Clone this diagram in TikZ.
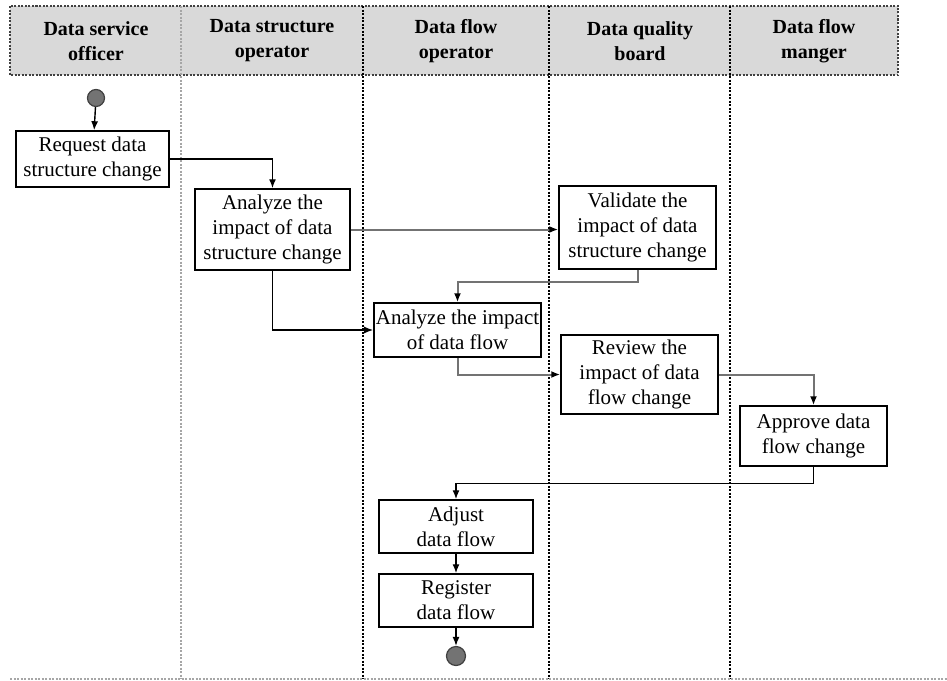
\documentclass[tikz,border=0pt]{standalone}
\usepackage{fontspec}
\setmainfont{Liberation Serif}
\usepackage{xcolor}
\usepackage{tikz}
\usetikzlibrary{shapes.geometric, arrows, arrows.meta, positioning}
\tikzstyle{process} = [rectangle, draw=black, line width=1.5pt, align=center, inner sep=2pt, font=\fontsize{21}{25}\selectfont]
\tikzstyle{terminal} = [circle, draw=black!75, fill=black!55, line width=1.2pt, minimum size=17pt, inner sep=0pt]
\tikzstyle{heading} = [align=center, font=\fontsize{20}{25}\selectfont\bfseries]
\tikzstyle{lane} = [line width=1.4pt, dash pattern=on 2pt off 1.5pt]
\tikzstyle{line} = [draw, -{Latex[length=9pt, width=7pt]}, line width=1.4pt]
\tikzstyle{softline} = [line, draw=black!55, line width=2pt, -{Latex[length=9pt, width=7pt, color=black]}]

\begin{document}
\begin{tikzpicture}[x=1pt, y=-1pt]
    \useasboundingbox (0,0) rectangle (947,680);
    % Swimlanes
    \draw [lane, draw=black!75, fill=black!15] (10,6) rectangle (898,75);
    \draw [lane, draw=black!35] (181,6) -- (181,679);
    \foreach \x in {363,549,730}
        \draw [lane] (\x,6) -- (\x,679);
    \draw [lane, draw=black!35] (10,679) -- (947,679);
    \node [heading] (h1) at (96,41) {Data service\\officer};
    \node [heading] (h2) at (272,41) {Data structure\\operator};
    \node [heading] (h3) at (456,41) {Data flow\\operator};
    \node [heading] (h4) at (640,41) {Data quality\\board};
    \node [heading] (h5) at (814,41) {Data flow\\manger};

    % Nodes
    \node [terminal] (start) at (96,98) {};
    \node [process, minimum width=153pt, minimum height=56pt] (request) at (92.5,159) {Request data\\structure change};
    \node [process, minimum width=155pt, minimum height=81pt] (analyze) at (272.5,229.5) {Analyze the\\impact of data\\structure change};
    \node [process, minimum width=157pt, minimum height=83pt] (validate) at (637.5,227.5) {Validate the\\impact of data\\structure change};
    \node [process, minimum width=165pt, minimum height=54pt] (impact) at (457.5,330) {Analyze the impact\\of data flow};
    \node [process, minimum width=157pt, minimum height=79pt] (review) at (639.5,374.5) {Review the\\impact of data\\flow change};
    \node [process, minimum width=147pt, minimum height=60pt] (approve) at (813.5,436) {Approve data\\flow change};
    \node [process, minimum width=154pt, minimum height=53pt] (adjust) at (456,526.5) {Adjust\\data flow};
    \node [process, minimum width=154pt, minimum height=53pt, below of=adjust, node distance=74pt] (register) {Register\\data flow};
    \node [terminal, minimum size=19pt, below of=register, node distance=55.5pt] (stop) {};

    % Edges
    \path [line] (start) -- (request);
    \path [line] (request) -| (analyze);
    \path [softline] (analyze.east) -- (analyze.east -| validate.west);
    \path [softline] (validate.south) -- ++(0,12) -| (impact.north);
    \path [line] (analyze) |- (impact);
    \path [softline] (impact) |- (review);
    \path [softline] (review) -| (approve);
    \path [line] (approve.south) -- ++(0,17) -| (adjust.north);
    \path [line] (adjust) -- (register);
    \path [line] (register) -- (stop);
\end{tikzpicture}
\end{document}
